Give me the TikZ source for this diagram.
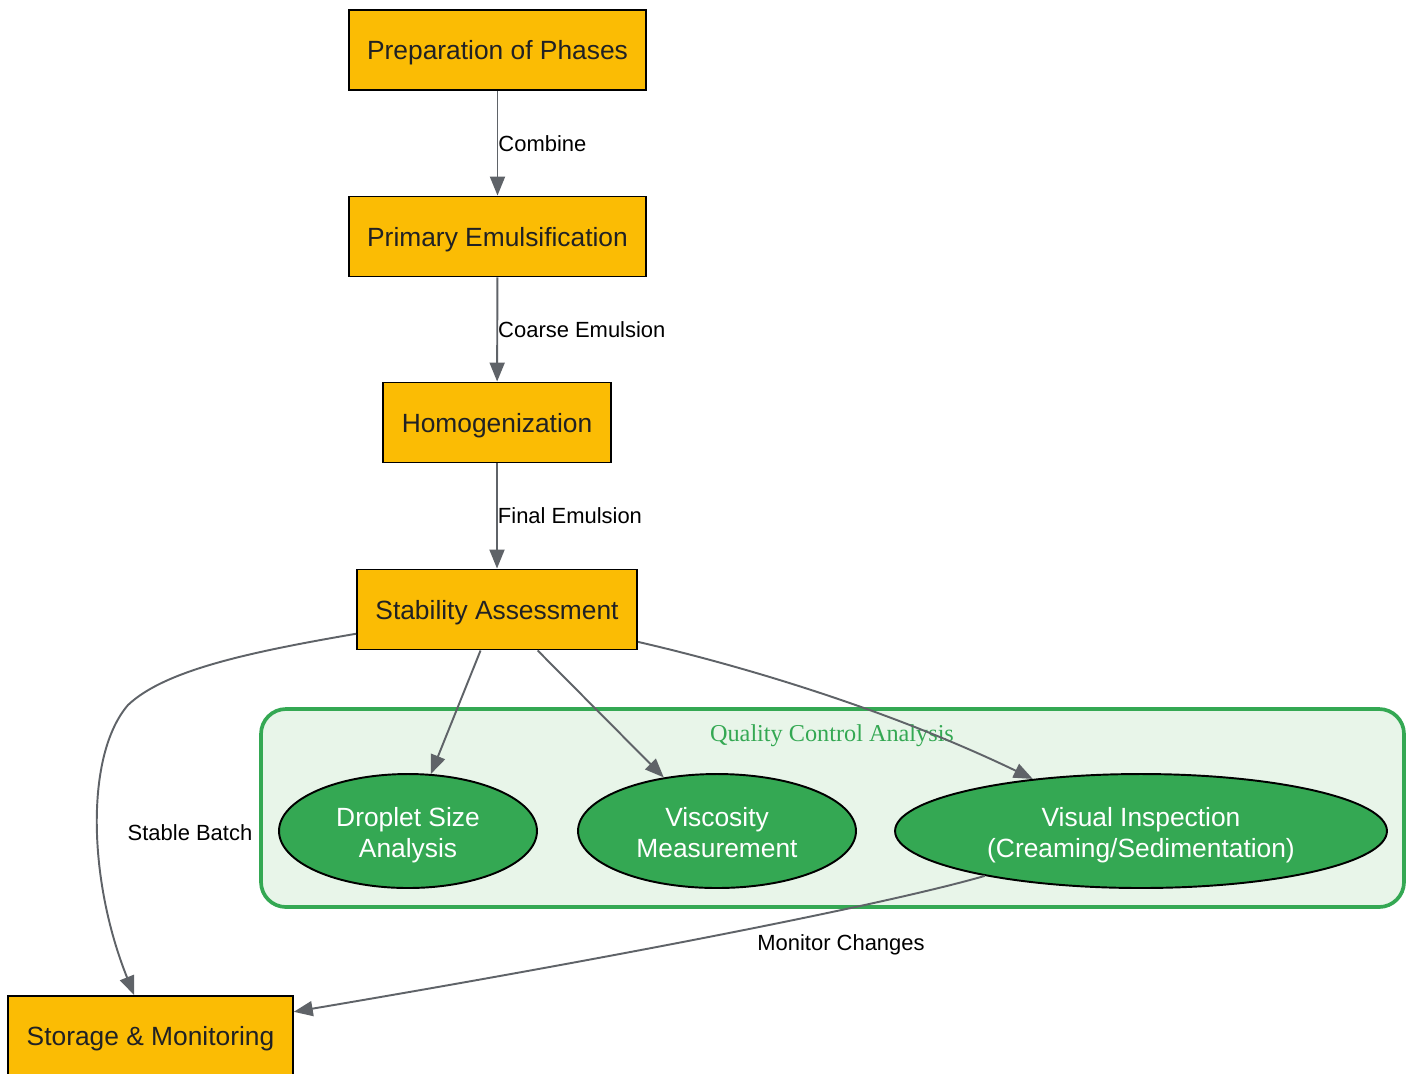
\documentclass[tikz,border=0pt]{standalone}
\usepackage{fontspec}
\setmainfont{Liberation Sans}
\newfontfamily\clusterfont{Liberation Serif}
\usetikzlibrary{shapes.geometric, arrows.meta, positioning}

\definecolor{stepfill}{HTML}{FBBC04}
\definecolor{qcgreen}{HTML}{34A853}
\definecolor{qcback}{HTML}{E8F5E9}
\definecolor{edgegray}{HTML}{5F6368}
\definecolor{textdark}{HTML}{202124}

\newcommand{\lowstrut}{\rule{0pt}{0.55cm}}
\newcommand{\deepstrut}{\rule[-3.2pt]{0pt}{3.2pt}}

\begin{document}
\begin{tikzpicture}[x=0.02cm, y=-0.02cm,
  process/.style={rectangle, minimum height=1.6cm, inner xsep=0.37cm, text height=14.4pt, text depth=3.2pt, text centered, align=center, draw=black, line width=1.1pt, fill=stepfill, text=textdark, font=\fontsize{15}{17.6}\selectfont},
  test/.style={ellipse, minimum height=2.28cm, text centered, align=center, draw=black, line width=1.1pt, fill=qcgreen, text=white, font=\fontsize{15}{17.6}\selectfont},
  cluster/.style={rounded corners=0.5cm, draw=qcgreen, line width=2.1pt, fill=qcback},
  clabel/.style={text=qcgreen, font=\clusterfont\fontsize{13.8}{16}\selectfont},
  elabel/.style={text=black, inner sep=0pt, font=\fontsize{12.5}{15}\selectfont},
  arrow/.style={line width=1.1pt, draw=edgegray, -{Triangle[length=0.38cm, width=0.3cm]}}]

  \useasboundingbox (0,0) rectangle (1412,1073);

  % Cluster
  \draw [cluster] (261,709) rectangle (1404,907);
  \node (qclabel) [clabel] at (832,736) {Quality Control Analysis};

  % Nodes
  \node (prep) [process] at (497.5,50) {Preparation of Phases};
  \node (primary) [process] at (497.5,236.5) {Primary Emulsification};
  \node (homog) [process] at (497,422.5) {Homogenization};
  \node (stab) [process] at (497,609.5) {Stability Assessment};
  \node (store) [process] at (150.5,1036) {Storage \& Monitoring};

  \node (droplet) [test, minimum width=5.16cm] at (408,831) {\lowstrut Droplet Size \\ Analysis\deepstrut};
  \node (visc) [test, minimum width=5.56cm] at (717,831) {\lowstrut Viscosity \\ Measurement\deepstrut};
  \node (visual) [test, minimum width=9.84cm] at (1141,831) {\lowstrut Visual Inspection \\ (Creaming/Sedimentation)\deepstrut};

  % Arrows
  \draw [arrow] (prep) -- node [elabel, anchor=west] {Combine} (primary);
  \draw [arrow] (primary) -- node [elabel, anchor=west] {Coarse Emulsion} (homog);
  \draw [arrow] (homog) -- node [elabel, anchor=west] {Final Emulsion} (stab);

  \draw [arrow] (stab) .. controls (250,652) and (165,670) .. (128,705) .. controls (85,755) and (88,880) .. (store);
  \node (stablelabel) [elabel] at (190,833) {Stable Batch};

  \draw [arrow] (stab) -- (droplet);
  \draw [arrow] (stab) -- (visc);
  \draw [arrow] (stab) .. controls (760,670) and (900,715) .. (visual);

  \draw [arrow] (visual) .. controls (880,906) and (600,960) .. (store);
  \node (monitorlabel) [elabel] at (841,945) {Monitor Changes};

\end{tikzpicture}
\end{document}
